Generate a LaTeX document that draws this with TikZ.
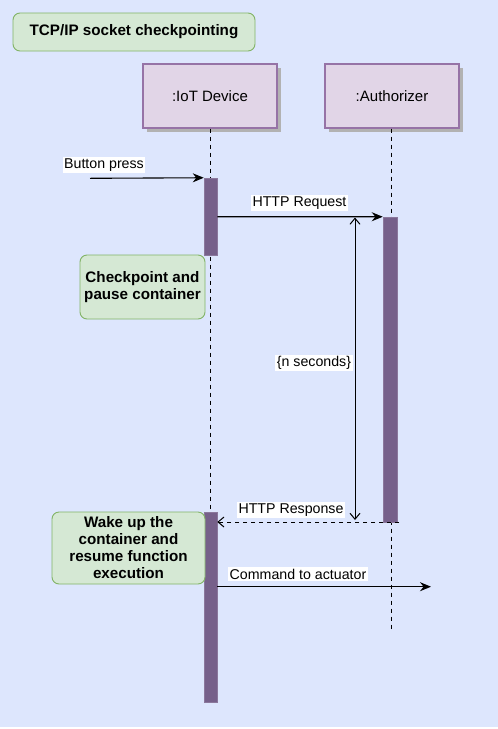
\documentclass[tikz,border=0pt]{standalone}
\usepackage{fontspec}
\setmainfont{Liberation Sans}
\usetikzlibrary{arrows.meta,positioning,calc}
\definecolor{bgblue}{HTML}{DDE6FD}
\definecolor{notefill}{HTML}{D5E8D4}
\definecolor{notedraw}{HTML}{82B366}
\definecolor{lifefill}{HTML}{E1D5E7}
\definecolor{lifedraw}{HTML}{9673A6}
\definecolor{actfill}{HTML}{76608A}
\tikzset{
  notebox/.style={draw=notedraw, fill=notefill, rounded corners=7pt, line width=0.9pt, align=center, font=\fontsize{15.2}{17.5}\selectfont\bfseries, inner sep=0pt},
  headbox/.style={draw=lifedraw, fill=lifefill, line width=1.2pt, minimum width=134pt, minimum height=64pt, inner sep=0pt, font=\fontsize{15}{17}\selectfont},
  headshadow/.style={fill=black!30, draw=none},
  actbar/.style={fill=actfill, draw=actfill!85!white, line width=0.5pt, minimum width=13pt, inner sep=0pt},
  lifeline/.style={dashed, dash pattern=on 4pt off 4pt, line width=0.9pt},
  msg/.style={-{Stealth[length=11pt,width=9pt]}, line width=1.1pt},
  reply/.style={-{Straight Barb[length=6pt,width=10pt]}, dashed, dash pattern=on 4pt off 4pt, line width=1pt},
  span/.style={{Straight Barb[length=6pt,width=10pt]}-{Straight Barb[length=6pt,width=10pt]}, line width=1pt},
  lbl/.style={fill=white, inner sep=1.5pt, font=\fontsize{14.2}{16}\selectfont}
}
\begin{document}
\begin{tikzpicture}[x=1pt,y=-1pt]
\useasboundingbox (0,0) rectangle (498,729);
\fill[bgblue] (0,0) rectangle (498,727);
% title
\node[notebox, minimum width=242pt, minimum height=38pt] (title) at (134,32) {TCP/IP socket checkpointing};
% lifeline headers
\fill[headshadow] (147,68) rectangle (281,132);
\fill[headshadow] (329,68) rectangle (463,132);
\node[headbox] (iot) at (210,96) {:IoT Device};
\node[headbox] (auth) at (392,96) {:Authorizer};
% lifelines
\coordinate (iotend) at (210,700);
\coordinate (authend) at (391,630);
\draw[lifeline] (iot.south) -- (iotend);
\draw[lifeline] (auth.south -| 391,0) -- (authend);
% activation bars
\node[actbar, minimum height=77pt] (act1) at (210.5,216.5) {};
\node[actbar, minimum width=14pt, minimum height=305pt] (act2) at (390,369.5) {};
\node[actbar, minimum height=190pt] (act3) at (210.5,607) {};
% notes
\node[notebox, minimum width=125pt, minimum height=64pt] (chk) at (142.5,287) {Checkpoint and\\pause container};
\node[notebox, minimum width=153pt, minimum height=72pt, font=\fontsize{15.2}{17}\selectfont\bfseries] (wake) at (128.5,548) {Wake up the\\container and\\resume function\\execution};
% button press
\coordinate (btnstart) at (90,178.3);
\draw[msg] (btnstart) -- (act1.north west);
\node[lbl] (btnlbl) at (104,165) {Button press};
% HTTP request
\draw[msg] (act1.east |- 0,216.7) coordinate (reqstart) -- (act2.north west);
\node[lbl] (reqlbl) at (299.5,203) {HTTP Request};
% n seconds span
\coordinate (spantop) at (355,217.5);
\coordinate (spanbot) at (355,520);
\draw[span] (spantop) -- (spanbot);
\node[lbl] (spanlbl) at (314,363) {\{n seconds\}};
% HTTP response
\coordinate (resend) at (399,522);
\draw[reply] (resend) -- (act3.east |- resend);
\node[lbl] (reslbl) at (291,510) {HTTP Response};
% command to actuator
\coordinate (cmdend) at (431,586.7);
\draw[msg] (act3.east |- cmdend) -- (cmdend);
\node[lbl] (cmdlbl) at (298,574) {Command to actuator};
\end{tikzpicture}
\end{document}
